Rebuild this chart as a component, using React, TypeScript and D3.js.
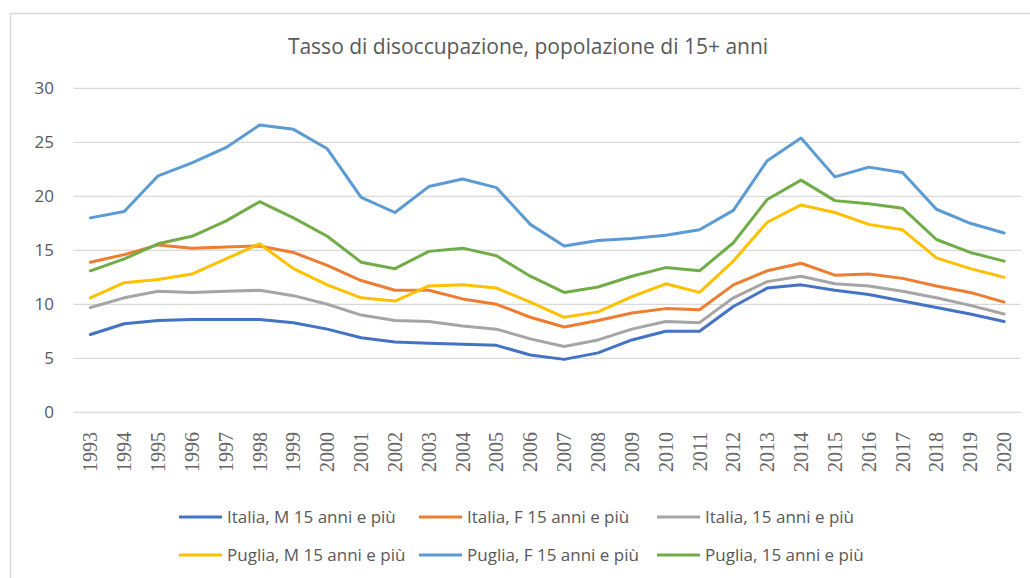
import React, { useRef, useEffect } from "react";
import * as d3 from "d3";

const years = [
  "1993", "1994", "1995", "1996", "1997", "1998", "1999", "2000", "2001", "2002",
  "2003", "2004", "2005", "2006", "2007", "2008", "2009", "2010", "2011", "2012",
  "2013", "2014", "2015", "2016", "2017", "2018", "2019", "2020",
];

const italiaM = [7.2, 8.2, 8.5, 8.6, 8.6, 8.6, 8.3, 7.7, 6.9, 6.5, 6.4, 6.3, 6.2, 5.3, 4.9, 5.5, 6.7, 7.5, 7.5, 9.8, 11.5, 11.8, 11.3, 10.9, 10.3, 9.7, 9.1, 8.4];
const italiaF = [13.9, 14.6, 15.5, 15.2, 15.3, 15.4, 14.8, 13.6, 12.2, 11.3, 11.3, 10.5, 10.0, 8.8, 7.9, 8.5, 9.2, 9.6, 9.5, 11.8, 13.1, 13.8, 12.7, 12.8, 12.4, 11.7, 11.1, 10.2];
const italiaT = [9.7, 10.6, 11.2, 11.1, 11.2, 11.3, 10.8, 10.0, 9.0, 8.5, 8.4, 8.0, 7.7, 6.8, 6.1, 6.7, 7.7, 8.4, 8.3, 10.6, 12.1, 12.6, 11.9, 11.7, 11.2, 10.6, 9.9, 9.1];
const pugliaM = [10.6, 12.0, 12.3, 12.8, 14.2, 15.6, 13.3, 11.8, 10.6, 10.3, 11.7, 11.8, 11.5, 10.2, 8.8, 9.3, 10.7, 11.9, 11.1, 14.0, 17.6, 19.2, 18.5, 17.4, 16.9, 14.3, 13.3, 12.5];
const pugliaF = [18.0, 18.6, 21.9, 23.1, 24.5, 26.6, 26.2, 24.4, 19.9, 18.5, 20.9, 21.6, 20.8, 17.4, 15.4, 15.9, 16.1, 16.4, 16.9, 18.7, 23.3, 25.4, 21.8, 22.7, 22.2, 18.8, 17.5, 16.6];
const pugliaT = [13.1, 14.2, 15.6, 16.3, 17.7, 19.5, 18.0, 16.3, 13.9, 13.3, 14.9, 15.2, 14.5, 12.6, 11.1, 11.6, 12.6, 13.4, 13.1, 15.7, 19.7, 21.5, 19.6, 19.3, 18.9, 16.0, 14.8, 14.0];

const seriesNames = [
  "Italia, M 15 anni e più",
  "Italia, F 15 anni e più",
  "Italia, 15 anni e più",
  "Puglia, M 15 anni e più",
  "Puglia, F 15 anni e più",
  "Puglia, 15 anni e più",
];
const seriesValues = [italiaM, italiaF, italiaT, pugliaM, pugliaF, pugliaT];
const colors = ["#4472C4", "#ED7D31", "#A5A5A5", "#FFC000", "#5B9BD5", "#70AD47"];
const yTicks = [0, 5, 10, 15, 20, 25, 30];

const App = () => {
  const ref = useRef<SVGSVGElement>(null);

  useEffect(() => {
    const W = 1030;
    const H = 578;
    const left = 73.5;
    const right = 1021;
    const top = 88.3;
    const bottom = 412.3;

    const svg = d3.select(ref.current);
    svg.selectAll("*").remove();
    svg.attr("width", W).attr("height", H);

    svg.append("rect").attr("width", W).attr("height", H).attr("fill", "#fff");
    // chart frame, runs off the right and bottom of the picture
    svg.append("rect")
      .attr("x", 10.5).attr("y", 13.5)
      .attr("width", 1100).attr("height", 700)
      .attr("fill", "none").attr("stroke", "#d9d9d9").attr("stroke-width", 1.5);

    svg.append("text")
      .attr("x", 528).attr("y", 54)
      .attr("text-anchor", "middle")
      .attr("font-family", "'Open Sans', sans-serif")
      .attr("font-size", 21)
      .attr("fill", "#595959")
      .text("Tasso di disoccupazione, popolazione di 15+ anni");

    const x = d3.scaleBand().domain(years).range([left, right]);
    const y = d3.scaleLinear().domain([0, 30]).range([bottom, top]);
    const cx = (d: string) => (x(d) as number) + x.bandwidth() / 2;

    svg.append("g").selectAll("line").data(yTicks).join("line")
      .attr("x1", left).attr("x2", right)
      .attr("y1", d => y(d)).attr("y2", d => y(d))
      .attr("stroke", "#d9d9d9").attr("stroke-width", 1.3);

    svg.append("g").selectAll("text").data(yTicks).join("text")
      .attr("x", 54).attr("y", d => y(d)).attr("dy", "0.35em")
      .attr("text-anchor", "end")
      .attr("font-family", "'Open Sans', sans-serif")
      .attr("font-size", 17).attr("fill", "#595959")
      .text(d => d);

    svg.append("g").selectAll("text").data(years).join("text")
      .attr("transform", d => `translate(${cx(d)},432) rotate(-90)`)
      .attr("dy", "0.35em")
      .attr("text-anchor", "end")
      .attr("font-family", "'Liberation Serif', serif")
      .attr("font-size", 20).attr("fill", "#666")
      .text(d => d);

    const line = d3.line<number>()
      .x((_, i) => cx(years[i]))
      .y(d => y(d));

    seriesValues.forEach((vals, i) => {
      svg.append("path")
        .datum(vals)
        .attr("fill", "none")
        .attr("stroke", colors[i])
        .attr("stroke-width", 3)
        .attr("stroke-linejoin", "round")
        .attr("stroke-linecap", "round")
        .attr("d", line);
    });

    // legend, 3 per row
    const colX = [179, 419, 657];
    const rowY = [517, 555];
    seriesNames.forEach((name, i) => {
      const lx = colX[i % 3];
      const ly = rowY[Math.floor(i / 3)];
      const g = svg.append("g");
      g.append("line")
        .attr("x1", lx).attr("x2", lx + 43)
        .attr("y1", ly).attr("y2", ly)
        .attr("stroke", colors[i]).attr("stroke-width", 3);
      g.append("text")
        .attr("x", lx + 48).attr("y", ly).attr("dy", "0.35em")
        .attr("font-family", "'Open Sans', sans-serif")
        .attr("font-size", 17).attr("fill", "#595959")
        .text(name);
    });
  }, []);

  return <svg ref={ref} style={{ position: "absolute", left: 0, top: 0 }}></svg>;
};

export default App;
